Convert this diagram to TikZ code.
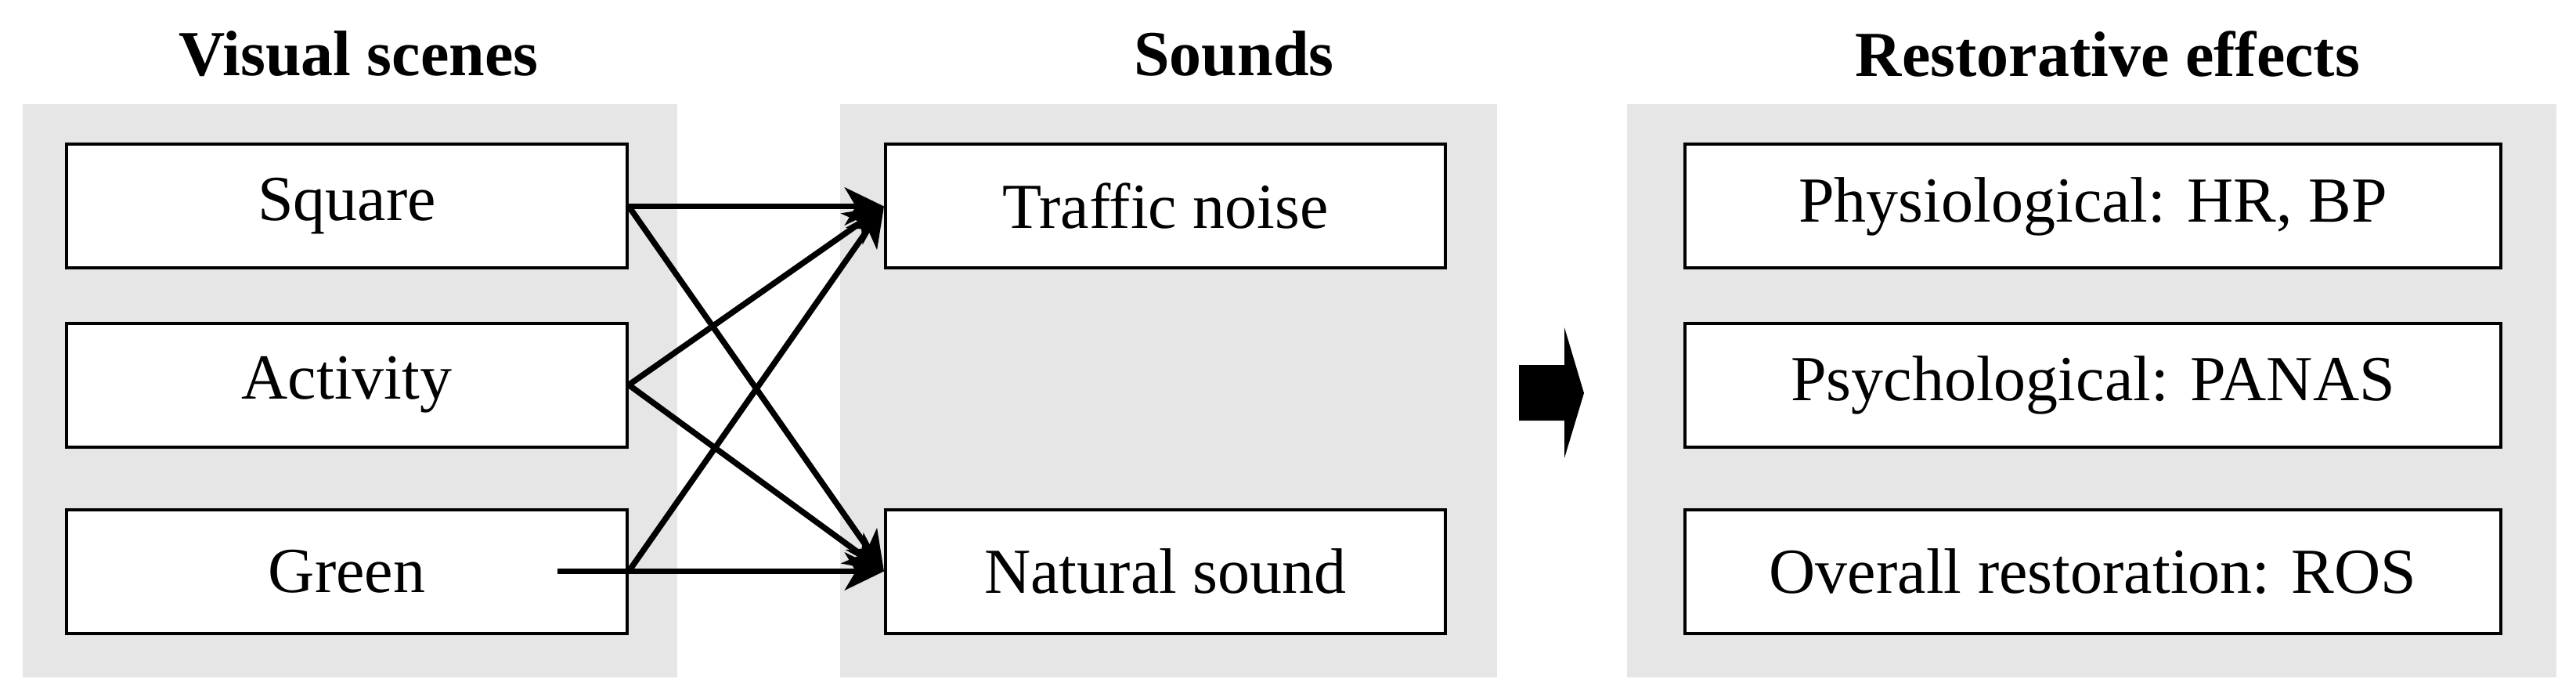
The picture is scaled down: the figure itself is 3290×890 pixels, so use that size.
\documentclass[tikz,border=0pt]{standalone}
\usepackage{fontspec}
\setmainfont{Liberation Serif}
\usetikzlibrary{arrows.meta}
\definecolor{panelgray}{RGB}{230,230,230}
\begin{document}
\begin{tikzpicture}[x=1pt,y=-1pt,
  panel/.style={fill=panelgray, draw=none, inner sep=0pt},
  box/.style={draw=black, line width=4pt, fill=white, inner sep=0pt,
    font=\fontsize{82}{98}\selectfont},
  lbox/.style={box, minimum width=716pt, minimum height=158pt},
  mbox/.style={box, minimum width=715pt, minimum height=158pt},
  rbox/.style={box, minimum width=1042pt, minimum height=158pt},
  ttl/.style={font=\fontsize{82}{98}\selectfont\bfseries, inner sep=0pt},
  conn/.style={line width=7.5pt, -{Stealth[length=50pt,width=48pt,inset=14pt]}},
]
\useasboundingbox (0,0) rectangle (3290,890);

% panels
\node[panel, minimum width=836pt, minimum height=732pt] (p1) at (447,499) {};
\node[panel, minimum width=839pt, minimum height=732pt] (p2) at (1492.5,499) {};
\node[panel, minimum width=1187pt, minimum height=732pt] (p3) at (2671.5,499) {};

% titles
\node[ttl] (t1) at (458,69) {Visual scenes};
\node[ttl] (t2) at (1576,69) {Sounds};
\node[ttl] (t3) at (2692,69) {Restorative effects};

% visual scenes
\node[lbox] (sq) at (443,263.5) {Square};
\node[lbox] (ac) at (443,491.5) {Activity};
\node[lbox] (gr) at (443,729.5) {Green};

% sounds
\node[mbox] (tn) at (1488.5,263.5) {Traffic noise};
\node[mbox] (ns) at (1488.5,729.5) {Natural sound};

% effects
\node[rbox] (ph) at (2673,263.5) {Physiological: HR, BP};
\node[rbox] (ps) at (2673,491.5) {Psychological: PANAS};
\node[rbox] (ov) at (2673,729.5) {Overall restoration: ROS};

% connectors
\coordinate (gstart) at (712,729.5);
\draw[conn] (sq.east) -- (tn.west);
\draw[conn] (sq.east) -- (ns.west);
\draw[conn] (ac.east) -- (tn.west);
\draw[conn] (ac.east) -- (ns.west);
\draw[conn] (gr.east) -- (tn.west);
\draw[conn] (gstart) -- (ns.west);

% big arrow
\fill[black] (1940,466) -- (1998,466) -- (1998,418) -- (2023,502)
  -- (1998,585) -- (1998,537) -- (1940,537) -- cycle;
\end{tikzpicture}
\end{document}
